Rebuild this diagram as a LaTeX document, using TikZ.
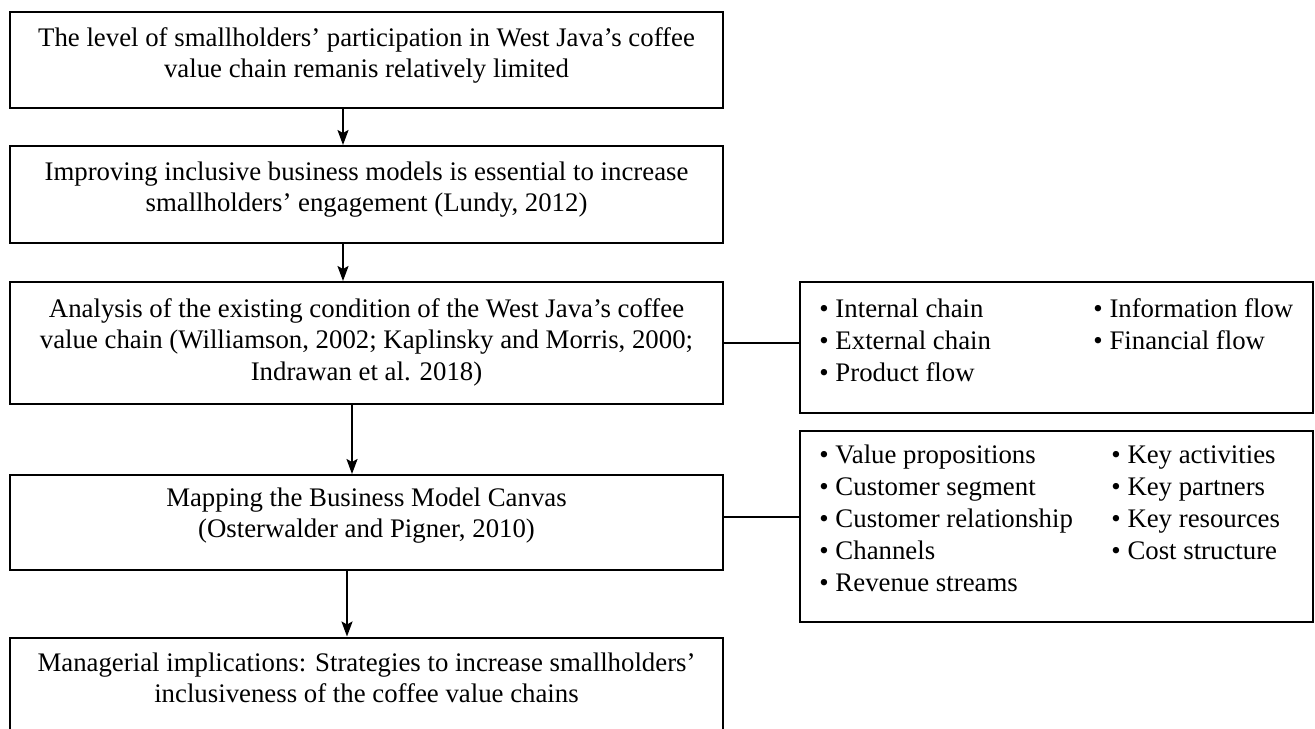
\documentclass[tikz,border=0pt]{standalone}
\usepackage{fontspec}
\setmainfont{Liberation Serif}
\usetikzlibrary{arrows.meta}

\begin{document}
\begin{tikzpicture}[x=0.5pt, y=-0.5pt,
  box/.style={draw, line width=1pt, inner sep=0pt},
  leftbox/.style={box, minimum width=356.5pt},
  rightbox/.style={box, minimum width=256.5pt},
  ln/.style={inner sep=0pt, font=\fontsize{13.4}{15.75}\selectfont},
  mid/.style={ln, anchor=base},
  lft/.style={ln, anchor=base west},
  flow/.style={line width=1pt, -{Stealth[length=7.5pt, width=5.5pt, inset=1.5pt]}},
  link/.style={line width=1pt}]

\useasboundingbox (0,0) rectangle (1315,728);

% main flow boxes
\node[leftbox, minimum height=48pt]   (b1) at (366.5,60)    {};
\node[leftbox, minimum height=48.5pt] (b2) at (366.5,194.5) {};
\node[leftbox, minimum height=61pt]   (b3) at (366.5,343)   {};
\node[leftbox, minimum height=47.5pt] (b4) at (366.5,522.5) {};
\node[leftbox, minimum height=47pt]   (b5) at (366.5,684.5) {};

% detail boxes
\node[rightbox, minimum height=65.5pt] (r1) at (1056.5,347.5) {};
\node[rightbox, minimum height=95.5pt] (r2) at (1056.5,526.5) {};

% texts of the flow boxes
\node[mid] (t11) at (366.5,46)    {The level of smallholders’ participation in West Java’s coffee};
\node[mid] (t12) at (366.5,77.5)  {value chain remanis relatively limited};
\node[mid] (t21) at (366.5,180)   {Improving inclusive business models is essential to increase};
\node[mid] (t22) at (366.5,211.5) {smallholders’ engagement (Lundy, 2012)};
\node[mid] (t31) at (366.5,317)   {Analysis of the existing condition of the West Java’s coffee};
\node[mid] (t32) at (366.5,348.5) {value chain (Williamson, 2002; Kaplinsky and Morris, 2000;};
\node[mid] (t33) at (366.5,380)   {Indrawan et al. 2018)};
\node[mid] (t41) at (366.5,506)   {Mapping the Business Model Canvas};
\node[mid] (t42) at (366.5,537.5) {(Osterwalder and Pigner, 2010)};
\node[mid] (t51) at (366.5,671)   {Managerial implications: Strategies to increase smallholders’};
\node[mid] (t52) at (366.5,702.5) {inclusiveness of the coffee value chains};

% value chain items
\foreach \txt [count=\i, evaluate=\i as \yy using 317+32*(\i-1)] in
  {Internal chain, External chain, Product flow}
  \node[lft] (ra\i) at (819,\yy) {\textbullet\ \txt};
\foreach \txt [count=\i, evaluate=\i as \yy using 317+32*(\i-1)] in
  {Information flow, Financial flow}
  \node[lft] (rb\i) at (1093,\yy) {\textbullet\ \txt};

% business model canvas items
\foreach \txt [count=\i, evaluate=\i as \yy using 463+32*(\i-1)] in
  {Value propositions, Customer segment, Customer relationship, Channels, Revenue streams}
  \node[lft] (sa\i) at (819,\yy) {\textbullet\ \txt};
\foreach \txt [count=\i, evaluate=\i as \yy using 463+32*(\i-1)] in
  {Key activities, Key partners, Key resources, Cost structure}
  \node[lft] (sb\i) at (1111,\yy) {\textbullet\ \txt};

% arrows between the flow boxes
\coordinate (xa) at (343,0);
\coordinate (xb) at (352,0);
\coordinate (xc) at (347,0);
\draw[flow] (b1.south -| xa) -- (b2.north -| xa);
\draw[flow] (b2.south -| xa) -- (b3.north -| xa);
\draw[flow] (b3.south -| xb) -- (b4.north -| xb);
\draw[flow] (b4.south -| xc) -- (b5.north -| xc);

% links to the detail boxes
\coordinate (ya) at (0,343);
\coordinate (yb) at (0,517);
\draw[link] (b3.east |- ya) -- (r1.west |- ya);
\draw[link] (b4.east |- yb) -- (r2.west |- yb);
\end{tikzpicture}
\end{document}
